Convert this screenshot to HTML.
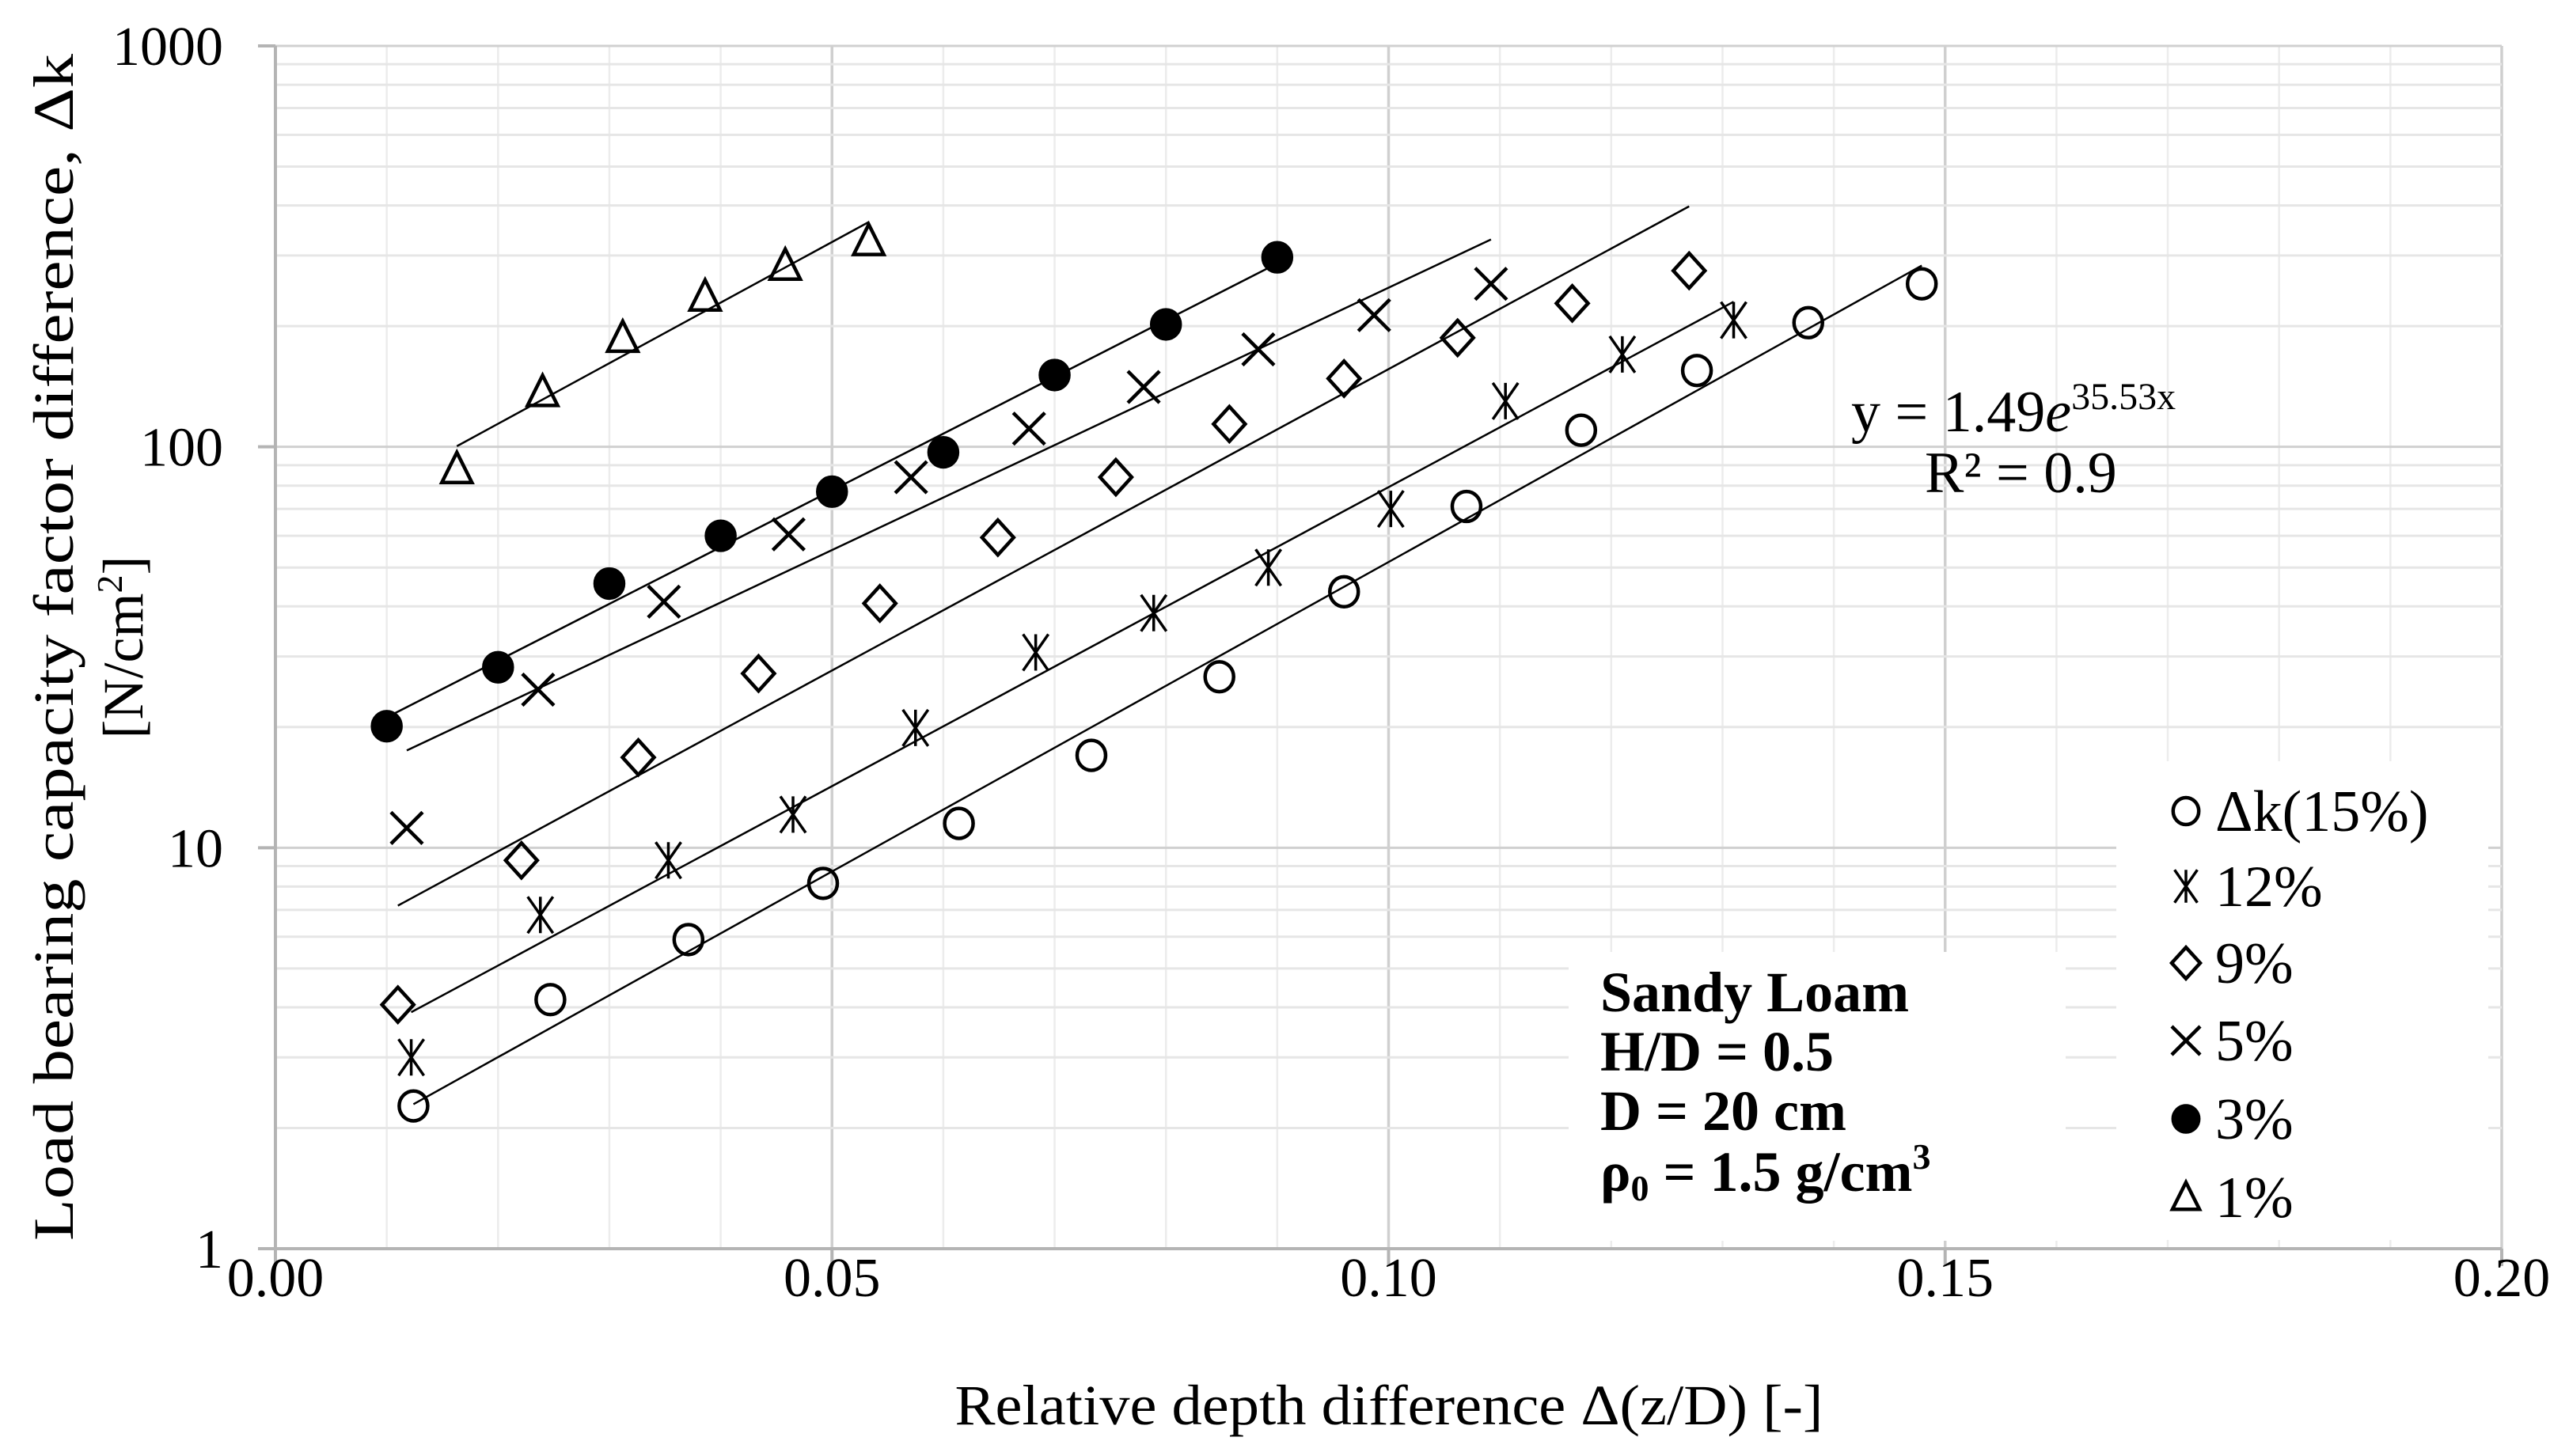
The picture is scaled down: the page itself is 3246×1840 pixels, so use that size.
<!DOCTYPE html>
<html><head><meta charset="utf-8"><style>
html,body{margin:0;padding:0;background:#fff;}
svg{display:block;}
text{font-family:"Liberation Serif",serif;fill:#000;}
</style></head><body>
<svg id="chart" width="3246" height="1840" viewBox="0 0 3246 1840" xmlns="http://www.w3.org/2000/svg">
<g id="grid"></g>
<g id="boxes">
  <rect x="1982" y="1203" width="628" height="365" fill="#fff"/>
  <rect x="2674" y="962" width="470" height="605" fill="#fff"/>
</g>
<g id="axes"></g>
<g id="trend"></g>
<g id="marks"></g>
<g id="labels"></g>
<text transform="translate(92,818) rotate(-90)" text-anchor="middle" font-size="72" textLength="1500" lengthAdjust="spacingAndGlyphs">Load bearing capacity factor difference, Δk</text>
<text transform="translate(180,818) rotate(-90)" text-anchor="middle" font-size="72">[N/cm<tspan font-size="46" dy="-26">2</tspan><tspan dy="26">]</tspan></text>
<text x="1755" y="1800" text-anchor="middle" font-size="72" textLength="1097" lengthAdjust="spacingAndGlyphs">Relative depth difference Δ(z/D) [-]</text>
<text x="2339" y="545" font-size="74">y = 1.49<tspan font-style="italic">e</tspan><tspan font-size="48" dy="-28">35.53x</tspan></text>
<text x="2432" y="622" font-size="74">R² = 0.9</text>
<g font-weight="bold" font-size="72">
  <text x="2022" y="1278">Sandy Loam</text>
  <text x="2022" y="1353">H/D = 0.5</text>
  <text x="2022" y="1428">D = 20 cm</text>
  <text x="2022" y="1505">ρ<tspan font-size="46" dy="12">0</tspan><tspan dy="-12"> = 1.5 g/cm</tspan><tspan font-size="46" dy="-28">3</tspan></text>
</g>
<g id="legend"></g>
</svg>
<script>
const seriesNames = ["Δk(15%)","12%","9%","5%","3%","1%"];
const seriesMarkers = ["circle","asterisk","diamond","cross","dot","triangle"];
const x15 = [0.0124,0.0247,0.0371,0.0492,0.0614,0.0733,0.0848,0.0960,0.1070,0.1173,0.1277,0.1377,0.1479];
const y15 = [2.27,4.18,5.9,8.15,11.5,17,26.7,43.5,71,110,155,204,255];
const x12 = [0.0122,0.0238,0.0353,0.0465,0.0575,0.0683,0.0789,0.0892,0.1002,0.1105,0.1210,0.1310];
const y12 = [3.0,6.8,9.3,12.1,19.9,30.7,38.5,50,70,130,170,207];
const x9 = [0.0110,0.0221,0.0326,0.0434,0.0543,0.0649,0.0755,0.0857,0.0960,0.1062,0.1165,0.1270];
const y9 = [4.06,9.3,16.8,27.2,40.7,59.4,84,114,148,187,228,275];
const x5 = [0.0118,0.0236,0.0349,0.0461,0.0571,0.0677,0.0780,0.0883,0.0987,0.1092];
const y5 = [11.2,24.8,41.1,60.5,84,111,141,175,213,255];
const x3 = [0.0100,0.0200,0.0300,0.0400,0.0500,0.0600,0.0700,0.0800,0.0900];
const y3 = [20.1,28.2,45.6,60,77.3,96.9,151,202,297];
const x1 = [0.0163,0.0240,0.0312,0.0386,0.0458,0.0533];
const y1 = [88,137,187,237,283,326];
const xTicks = ["0.00","0.05","0.10","0.15","0.20"];
const yTicks = ["1","10","100","1000"];

const allX = [x15,x12,x9,x5,x3,x1];
const allY = [y15,y12,y9,y5,y3,y1];
const NS = "http://www.w3.org/2000/svg";
const L=348,R=3161,T=58,B=1578;
const sx = v => L + (v-0)/(0.2-0)*(R-L);
const sy = v => B - (Math.log10(v)-0)/3*(B-T);
function mk(tag, attrs, parent){const e=document.createElementNS(NS,tag);for(const k in attrs)e.setAttribute(k,attrs[k]);parent.appendChild(e);return e;}
const grid=document.getElementById('grid'),axes=document.getElementById('axes'),labels=document.getElementById('labels');
for(let i=1;i<=20;i++){
  const v=i*0.01, major=(i%5===0);
  const l=mk('line',{x1:sx(v),x2:sx(v),y1:T,y2:B,stroke:major?'#cfcfcf':'#ececec','stroke-width':major?3.5:2.5},grid);
  
  
}
for(let d=0;d<3;d++){for(let m=2;m<=10;m++){
  const v=Math.pow(10,d)*m, major=(m===10);
  const l=mk('line',{x1:L,x2:R,y1:sy(v),y2:sy(v),stroke:major?'#d0d0d0':'#e6e6e6','stroke-width':3},grid);
  
  
}}
const ya=mk('line',{x1:L,x2:L,y1:T,y2:B+22,stroke:'#b4b4b4','stroke-width':4},axes);


const xa=mk('line',{x1:L-22,x2:R,y1:B,y2:B,stroke:'#b4b4b4','stroke-width':4},axes);


xTicks.forEach(t=>{
  const v=parseFloat(t);
  const tk=mk('line',{x1:sx(v),x2:sx(v),y1:B,y2:B+22,stroke:'#b4b4b4','stroke-width':4},axes);
  
  
  const tx=mk('text',{x:sx(v),y:B+60,'text-anchor':'middle','font-size':70},labels);
  tx.textContent=t;
  
  
});
yTicks.forEach(t=>{
  const v=parseFloat(t);
  const tk=mk('line',{x1:L-22,x2:L,y1:sy(v),y2:sy(v),stroke:'#b4b4b4','stroke-width':4},axes);
  
  
  const tx=mk('text',{x:282,y:sy(v)+24,'text-anchor':'end','font-size':70},labels);
  tx.textContent=t;
  
  
});
function marker(type,cx,cy,parent,s){
  s=s||1;
  const g=mk('g',{stroke:'#000','stroke-width':4.5,fill:'none'},parent);
  const r=18*s;
  if(type==='circle'){mk('ellipse',{cx:cx,cy:cy,rx:r,ry:r*1.05},g);}
  else if(type==='dot'){mk('ellipse',{cx:cx,cy:cy,rx:r,ry:r*1.02,fill:'#000'},g);}
  else if(type==='diamond'){mk('polygon',{points:`${cx},${cy-22*s} ${cx+20*s},${cy} ${cx},${cy+22*s} ${cx-20*s},${cy}`},g);}
  else if(type==='triangle'){mk('polygon',{points:`${cx},${cy-21*s} ${cx+19*s},${cy+17*s} ${cx-19*s},${cy+17*s}`},g);}
  else if(type==='cross'){const a=20*s,b=20*s;mk('path',{d:`M${cx-a},${cy-b}L${cx+a},${cy+b}M${cx+a},${cy-b}L${cx-a},${cy+b}`},g);}
  else if(type==='asterisk'){const a=16*s,b=23*s;mk('path',{d:`M${cx},${cy-b}L${cx},${cy+b}M${cx-a},${cy-b}L${cx+a},${cy+b}M${cx+a},${cy-b}L${cx-a},${cy+b}`,'stroke-width':3.5},g);}
  return g;
}
const marks=document.getElementById('marks'),trend=document.getElementById('trend');
allX.forEach((xs,si)=>{
  const ys=allY[si];
  const n=xs.length;let sx1=0,sy1=0,sxx=0,sxy=0;
  for(let i=0;i<n;i++){const ly=Math.log(ys[i]);sx1+=xs[i];sy1+=ly;sxx+=xs[i]*xs[i];sxy+=xs[i]*ly;}
  const b=(n*sxy-sx1*sy1)/(n*sxx-sx1*sx1),a=(sy1-b*sx1)/n;
  const xa0=Math.min(...xs),xa1=Math.max(...xs);
  const tl=mk('line',{x1:sx(xa0),y1:sy(Math.exp(a+b*xa0)),x2:sx(xa1),y2:sy(Math.exp(a+b*xa1)),stroke:'#000','stroke-width':2.5},trend);
  
  
  xs.forEach((xv,i)=>{
    const m=marker(seriesMarkers[si],sx(xv),sy(ys[i]),marks);
    
    
  });
});
const legend=document.getElementById('legend');
const legY=[1025,1120,1217,1315,1414,1513];
seriesNames.forEach((nm,i)=>{
  const g=mk('g',{},legend);
  
  
  marker(seriesMarkers[i],2762,legY[i],g,0.9);
  const t=mk('text',{x:2799,y:legY[i]+25,'font-size':74},g);
  t.textContent=nm;
});
</script>
</body></html>
